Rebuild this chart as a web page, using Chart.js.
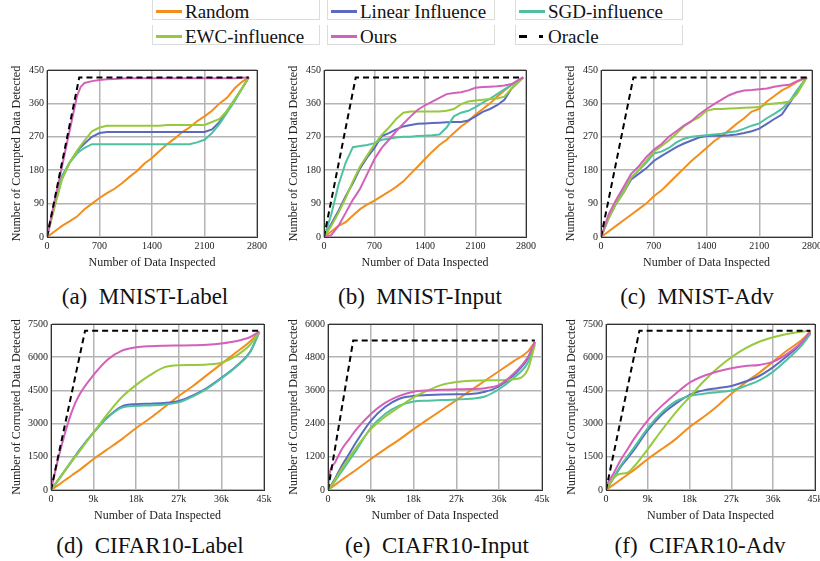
<!DOCTYPE html>
<html>
<head>
<meta charset="utf-8">
<script src="https://cdn.jsdelivr.net/npm/chart.js@4"></script>
<style>
  html, body { margin: 0; padding: 0; background: #fff; }
  body { width: 820px; height: 561px; position: relative; overflow: hidden; font-family: 'Liberation Serif', Tinos, 'Times New Roman', 'DejaVu Serif', serif; color: #111; }
  .item { position: absolute; height: 20px; border: 1px solid #dcdcdc; border-top: none; box-sizing: border-box; }
  .swatch { position: absolute; height: 3px; }
  .ltext { position: absolute; font-size: 19px; line-height: 20px; white-space: nowrap; }
  .cap { position: absolute; font-size: 23px; line-height: 26px; text-align: center; white-space: nowrap; }
</style>
</head>
<body>
<script>
// colours of the methods
const cRandom = '#f28e1c'
const cLinear = '#5b6abf'
const cSgd = '#4fc1a1'
const cEwc = '#97c93d'
const cOurs = '#d461b9'

// (a) MNIST-Label
const aX = [0,100,200,300,400,450,500,600,700,800,900,1000,1100,1200,1300,1400,1500,1600,1700,1800,1900,2000,2100,2200,2300,2400,2500,2600,2690]
const aRandom = [0,15,30,42,55,65,75,90,105,118,130,145,162,178,198,213,232,250,265,282,295,312,325,340,360,375,400,418,430]
const aLinear = [0,85,160,200,230,242,252,270,280,283,283,283,283,283,283,283,283,283,283,283,283,283,283,290,310,340,370,400,430]
const aSgd = [0,90,165,200,225,233,240,250,250,250,250,250,250,250,250,250,250,250,250,250,250,255,262,280,305,335,365,400,430]
const aEwc = [0,80,155,200,232,246,260,285,295,300,300,300,300,300,300,300,300,302,302,302,302,302,302,310,318,340,370,400,430]
const aOurs = [0,95,190,285,380,405,415,420,423,425,426,427,428,428,428,428,428,428,428,428,428,428,428,428,428,428,428,429,430]
const aOracleX = [0,430,2690]
const aOracle = [0,430,430]

// (b) MNIST-Input
const bX = [0,100,200,300,400,500,600,700,800,900,1000,1100,1200,1300,1400,1500,1600,1700,1800,1900,2000,2100,2200,2300,2400,2500,2600,2760]
const bRandom = [0,15,30,40,58,75,88,98,110,122,135,150,170,190,210,230,248,262,280,298,312,330,345,360,378,395,410,430]
const bLinear = [0,35,70,110,145,185,215,240,272,280,290,298,302,305,306,307,308,309,310,310,314,325,337,345,355,370,400,430]
const bSgd = [0,60,140,200,242,245,248,253,262,265,268,270,270,272,273,274,276,295,325,335,340,350,362,372,385,398,410,430]
const bEwc = [0,30,65,105,150,190,220,250,275,295,318,335,338,338,338,338,338,340,345,358,365,368,370,372,373,378,400,430]
const bOurs = [0,5,30,65,100,130,170,210,240,262,285,305,325,343,355,365,375,385,388,390,395,402,404,405,406,408,412,430]
const bOracleX = [0,440,2760]
const bOracle = [0,430,430]

// (c) MNIST-Adv
const cX = [0,100,200,300,400,500,600,700,800,900,1000,1100,1200,1300,1400,1500,1600,1700,1800,1900,2000,2100,2200,2300,2400,2500,2600,2730]
const cRandom2 = [0,15,30,45,60,75,90,110,125,145,165,185,205,222,240,258,272,288,305,320,338,345,365,380,395,405,418,430]
const cLinear2 = [0,50,90,120,155,170,185,205,218,230,242,252,260,268,272,273,273,274,276,280,285,292,305,318,330,360,390,430]
const cSgd2 = [0,55,95,125,160,180,200,225,230,240,255,265,270,272,274,276,278,282,285,292,300,306,320,332,345,365,395,430]
const cEwc2 = [0,50,90,120,160,180,205,230,245,260,278,298,312,322,340,345,345,346,347,348,349,350,358,360,362,365,385,430]
const cOurs2 = [0,60,100,135,170,190,215,235,250,270,285,300,312,330,345,358,370,382,390,395,396,398,400,405,408,410,420,430]
const cOracleX = [0,430,2730]
const cOracle = [0,430,430]

// (d) CIFAR10-Label
const dX = [0,1500,3000,4500,6000,9000,12000,15000,18000,21000,24000,27000,30000,33000,36000,39000,42000,44000]
const dRandom = [0,220,450,680,900,1400,1850,2300,2800,3250,3750,4250,4700,5200,5700,6200,6700,7150]
const dLinear = [0,450,900,1350,1800,2600,3300,3780,3880,3900,3930,4020,4270,4620,5070,5570,6220,7150]
const dSgd = [0,430,880,1320,1760,2600,3280,3720,3800,3820,3860,3960,4230,4580,5040,5550,6200,7120]
const dEwc = [0,450,900,1350,1750,2600,3450,4200,4750,5200,5550,5640,5650,5670,5750,6050,6550,7150]
const dOurs = [0,1400,2600,3600,4300,5200,5900,6300,6450,6500,6520,6530,6540,6560,6620,6720,6900,7150]
const dOracleX = [0,7200,44000]
const dOracle = [0,7200,7200]

// (e) CIAFR10-Input
const eX = [0,300,1500,3000,4500,6000,9000,12000,15000,18000,21000,24000,27000,30000,33000,36000,39000,42000,43500]
const eRandom = [0,40,190,380,560,740,1120,1480,1820,2200,2550,2900,3250,3600,3950,4300,4650,5000,5350]
const eLinear = [0,80,420,900,1320,1750,2500,3000,3300,3400,3430,3450,3460,3470,3550,3750,4150,4750,5350]
const eSgd = [0,60,330,700,1080,1450,2250,2750,3050,3200,3230,3250,3270,3300,3380,3650,4050,4600,5300]
const eEwc = [0,60,380,800,1180,1550,2200,2650,3000,3350,3600,3800,3900,3950,3960,3970,4000,4350,5250]
const eOurs = [0,550,1000,1500,1850,2200,2750,3150,3400,3550,3600,3620,3640,3650,3680,3800,4200,4800,5350]
const eOracleX = [0,5300,43500]
const eOracle = [0,5400,5400]

// (f) CIFAR10-Adv
const fX = [0,1500,3000,4500,6000,9000,12000,15000,18000,21000,24000,27000,30000,33000,36000,39000,42000,44000]
const fRandom = [0,220,450,680,900,1400,1850,2300,2850,3300,3800,4350,4850,5300,5800,6300,6750,7150]
const fLinear = [0,500,1000,1400,1800,2700,3400,3900,4300,4500,4600,4700,4900,5150,5550,6050,6600,7100]
const fSgd = [0,520,1050,1480,1900,2800,3500,4000,4250,4350,4420,4500,4700,4950,5350,5900,6500,7050]
const fEwc = [0,500,730,770,1050,1850,2700,3500,4200,4900,5500,6000,6400,6700,6900,7050,7150,7200]
const fOurs = [200,700,1300,1800,2300,3150,3800,4350,4850,5150,5350,5500,5600,5650,5800,6150,6650,7200]
const fOracleX = [0,7200,44000]
const fOracle = [0,7200,7200]

const FONT = "'Liberation Serif', Tinos, 'Times New Roman', 'DejaVu Serif', serif"

const pts = (xs, ys) => xs.map((x, i) => ({x: x, y: ys[i]}))

// black frame round the plot area
const framePlugin = {
	id: 'frame',
	afterDraw(chart) {
		const a = chart.chartArea
		const ctx = chart.ctx
		ctx.save()
		ctx.strokeStyle = '#333'
		ctx.lineWidth = 1
		ctx.strokeRect(Math.round(a.left) + 0.5, Math.round(a.top) + 0.5, Math.round(a.right - a.left), Math.round(a.bottom - a.top))
		ctx.restore()
	}
}

function makePanel(p) {
	const W = p.yw, padTop = 8, padRight = 16, padBottom = 2, XH = 33
	const w = p.R - p.L + W + padRight
	const h = p.B - p.T + padTop + XH + padBottom
	const canvas = document.createElement('canvas')
	canvas.width = w
	canvas.height = h
	canvas.style.cssText = 'position:absolute;left:' + (p.L - W) + 'px;top:' + (p.T - padTop) + 'px;width:' + w + 'px;height:' + h + 'px'
	document.body.appendChild(canvas)

	const line = (label, color, ys, xs) => ({
		label: label,
		data: pts(xs || p.x, ys),
		borderColor: color,
		backgroundColor: color,
		borderWidth: 2,
		pointRadius: 0,
		cubicInterpolationMode: p.smooth ? 'monotone' : 'default',
		tension: 0
	})
	const oracle = line('Oracle', '#000', p.oracle, p.oracleX)
	oracle.borderDash = [6, 4]
	oracle.cubicInterpolationMode = 'default'

	const xTick = p.k ? (v => v === 0 ? '0' : (v / 1000) + 'k') : (v => String(v))

	new Chart(canvas, {
		type: 'line',
		data: {
			datasets: [
				oracle,
				line('Ours', cOurs, p.ours),
				line('EWC-influence', cEwc, p.ewc),
				line('SGD-influence', cSgd, p.sgd),
				line('Linear Influence', cLinear, p.linear),
				line('Random', cRandom, p.random)
			]
		},
		options: {
			responsive: false,
			animation: false,
			layout: { padding: { left: 0, top: padTop, right: padRight, bottom: padBottom } },
			plugins: { legend: { display: false }, tooltip: { enabled: false } },
			scales: {
				x: {
					type: 'linear',
					min: 0,
					max: p.xMax,
					afterFit: s => { s.height = XH },
					ticks: { stepSize: p.xStep, maxRotation: 0, padding: 3, color: '#222', font: { family: FONT, size: 10 }, callback: xTick },
					grid: { color: '#b4b4b4', lineWidth: 1.5, drawTicks: false },
					border: { color: '#333' },
					title: { display: true, text: 'Number of Data Inspected', color: '#222', font: { family: FONT, size: 12 }, padding: { top: 0, bottom: 0 } }
				},
				y: {
					min: 0,
					max: p.yMax,
					afterFit: s => { s.width = W },
					ticks: { stepSize: p.yStep, padding: 3, color: '#222', font: { family: FONT, size: 10 }, callback: v => String(v) },
					grid: { color: '#b4b4b4', lineWidth: 1.5, drawTicks: false },
					border: { color: '#333' },
					title: { display: true, text: 'Number of Corrupted Data Detected', color: '#222', font: { family: FONT, size: 12 }, padding: { top: 1, bottom: 0 } }
				}
			}
		},
		plugins: [framePlugin]
	})
}

const mnist = { xMax: 2800, xStep: 700, yMax: 450, yStep: 90, yw: 38, T: 69, B: 237 }
const cifar = { xMax: 45000, xStep: 9000, yw: 42, T: 323, B: 490, k: true, smooth: true }

makePanel(Object.assign({}, mnist, { L: 47, R: 257, x: aX, random: aRandom, linear: aLinear, sgd: aSgd, ewc: aEwc, ours: aOurs, oracleX: aOracleX, oracle: aOracle }))
makePanel(Object.assign({}, mnist, { L: 324, R: 526, x: bX, random: bRandom, linear: bLinear, sgd: bSgd, ewc: bEwc, ours: bOurs, oracleX: bOracleX, oracle: bOracle }))
makePanel(Object.assign({}, mnist, { L: 601, R: 812, x: cX, random: cRandom2, linear: cLinear2, sgd: cSgd2, ewc: cEwc2, ours: cOurs2, oracleX: cOracleX, oracle: cOracle }))
makePanel(Object.assign({}, cifar, { L: 51, R: 264, yMax: 7500, yStep: 1500, x: dX, random: dRandom, linear: dLinear, sgd: dSgd, ewc: dEwc, ours: dOurs, oracleX: dOracleX, oracle: dOracle }))
makePanel(Object.assign({}, cifar, { L: 328, R: 542, yMax: 6000, yStep: 1200, x: eX, random: eRandom, linear: eLinear, sgd: eSgd, ewc: eEwc, ours: eOurs, oracleX: eOracleX, oracle: eOracle }))
makePanel(Object.assign({}, cifar, { L: 606, R: 815, yMax: 7500, yStep: 1500, x: fX, random: fRandom, linear: fLinear, sgd: fSgd, ewc: fEwc, ours: fOurs, oracleX: fOracleX, oracle: fOracle }))

// legend, 3 x 2 grid above the panels
const legendItems = [
	{ text: 'Random', color: cRandom, left: 152, top: 0 },
	{ text: 'Linear Influence', color: cLinear, left: 327, top: 0 },
	{ text: 'SGD-influence', color: cSgd, left: 515, top: 0 },
	{ text: 'EWC-influence', color: cEwc, left: 152, top: 25 },
	{ text: 'Ours', color: cOurs, left: 327, top: 25 },
	{ text: 'Oracle', color: '#000', left: 515, top: 25, dashed: true }
]
legendItems.forEach(it => {
	const box = document.createElement('div')
	box.className = 'item'
	box.style.left = it.left + 'px'
	box.style.top = it.top + 'px'
	box.style.width = '168px'
	document.body.appendChild(box)
	if (it.dashed) {
		box.innerHTML = '<div class="swatch" style="left:3px;top:10px;width:8px;background:#000"></div>' +
			'<div class="swatch" style="left:23px;top:10px;width:4px;background:#000"></div>'
	} else {
		box.innerHTML = '<div class="swatch" style="left:3px;top:10px;width:26px;background:' + it.color + '"></div>'
	}
	const t = document.createElement('div')
	t.className = 'ltext'
	t.style.left = '32px'
	t.style.top = '2px'
	t.textContent = it.text
	box.appendChild(t)
})

// sub-captions
const captions = [
	{ text: '(a)\u00a0 MNIST-Label', cx: 145, cy: 297 },
	{ text: '(b)\u00a0 MNIST-Input', cx: 420, cy: 297 },
	{ text: '(c)\u00a0 MNIST-Adv', cx: 697, cy: 297 },
	{ text: '(d)\u00a0 CIFAR10-Label', cx: 150, cy: 546 },
	{ text: '(e)\u00a0 CIAFR10-Input', cx: 437, cy: 546 },
	{ text: '(f)\u00a0 CIFAR10-Adv', cx: 700, cy: 546 }
]
captions.forEach(c => {
	const d = document.createElement('div')
	d.className = 'cap'
	d.style.left = (c.cx - 130) + 'px'
	d.style.width = '260px'
	d.style.top = (c.cy - 13) + 'px'
	d.textContent = c.text
	document.body.appendChild(d)
})
</script>
</body>
</html>
